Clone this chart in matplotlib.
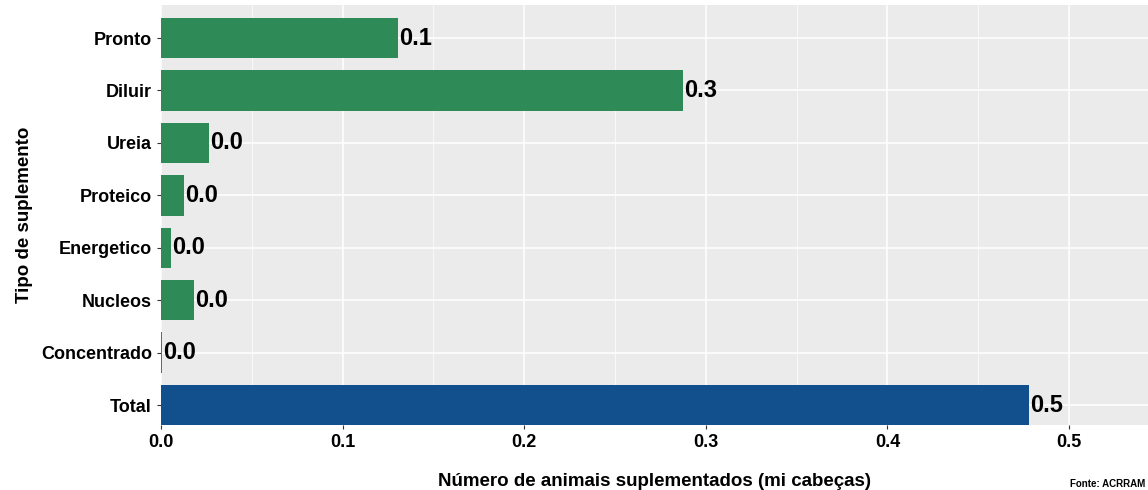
import matplotlib
matplotlib.use('Agg')
import matplotlib.pyplot as plt

categorias = ['Total', 'Concentrado', 'Nucleos', 'Energetico', 'Proteico', 'Ureia', 'Diluir', 'Pronto']
valores = [0.478, 0.0006, 0.0182, 0.0055, 0.0127, 0.0264, 0.2874, 0.1305]
cores = ['#11508C'] + ['#2E8B57'] * 7

plt.rcParams['font.family'] = ['Liberation Sans', 'DejaVu Sans']
fig = plt.figure(figsize=(11.48, 4.90), dpi=100)
ax = fig.add_axes([0.1402, 0.1327, 0.8598, 0.8571])
ax.set_facecolor('#EBEBEB')
ypos = range(len(categorias))
ax.barh(ypos, valores, height=0.77, color=cores, zorder=3)
for y, v in zip(ypos, valores):
    ax.text(v + 0.0008, y, f'{v:.1f}', va='center', ha='left', fontsize=17, fontweight='bold', zorder=4)

ax.set_xlim(0, 0.5435)
ax.set_ylim(-0.38, 7.63)
ax.set_yticks(list(ypos))
ax.set_yticklabels(categorias, fontsize=13, fontweight='bold')
ax.set_xticks([0, 0.1, 0.2, 0.3, 0.4, 0.5])
ax.set_xticklabels(['0.0', '0.1', '0.2', '0.3', '0.4', '0.5'], fontsize=13, fontweight='bold')
ax.set_xticks([0.05, 0.15, 0.25, 0.35, 0.45], minor=True)
ax.grid(True, axis='x', which='major', color='white', linewidth=1.1, zorder=0)
ax.grid(True, axis='x', which='minor', color='white', linewidth=0.5, zorder=0)
ax.grid(True, axis='y', which='major', color='white', linewidth=1.1, zorder=0)
ax.tick_params(which='both', length=3, color='#333333')
ax.tick_params(which='minor', length=0)
for s in ax.spines.values():
    s.set_visible(False)
ax.set_xlabel('Número de animais suplementados (mi cabeças)', fontsize=13.5, fontweight='bold', labelpad=16)
ax.set_ylabel('Tipo de suplemento', fontsize=13.5, fontweight='bold', labelpad=6)
fig.text(0.998, 0.003, 'Fonte: ACRRAM', ha='right', va='bottom', fontsize=7, fontweight='bold')

fig.savefig('out.png', dpi=100)
